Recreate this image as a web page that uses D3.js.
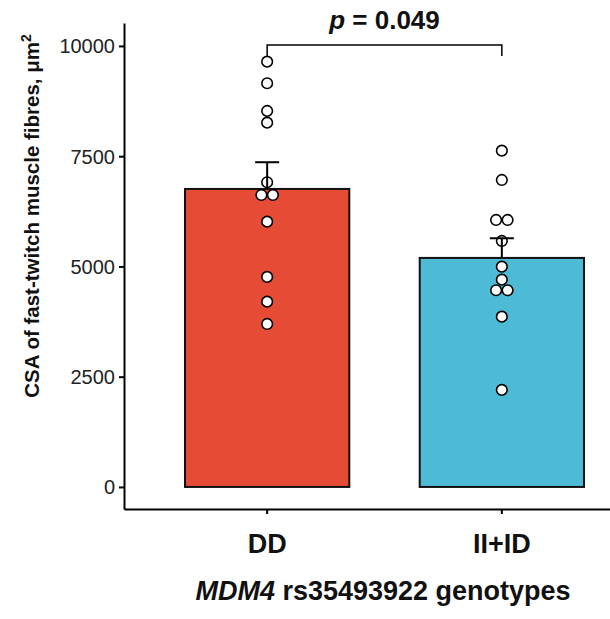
<!DOCTYPE html>
<html>
<head>
<meta charset="utf-8">
<script src="https://cdn.jsdelivr.net/npm/d3@7"></script>
<style>
  body { margin: 0; background: #fff; }
  text { font-family: "Liberation Sans", Arial, sans-serif; }
</style>
</head>
<body>
<div class="chart"></div>
<script>
// genotype groups
var genotypes = ["DD", "II+ID"];
var barColors = ["#E64B35", "#4DBBD5"];
// group means and standard errors
var means = [6757, 5193];
var errors = [606, 446];
// individual values
var ddValues = [9644, 9154, 8526, 8261, 6909, 6621, 6621, 6016, 4762, 4202, 3696];
var iiidValues = [7626, 6961, 6054, 6054, 5578, 4995, 4701, 4460, 4460, 3862, 2200];
var yTicks = [0, 2500, 5000, 7500, 10000];
var pLabel = "0.049";

var svgWidth = 610;
var svgHeight = 619;

var svg = d3.select(".chart")
  .append("svg")
  .attr("width", svgWidth)
  .attr("height", svgHeight);

var xScale = d3.scaleBand()
  .domain(genotypes)
  .range([124, 645])
  .paddingInner(0.3)
  .paddingOuter(0.26);

var yScale = d3.scaleLinear()
  .domain([-500, 10520])
  .range([509, 23]);

// bars
svg.selectAll("rect.bar")
  .data(genotypes)
  .enter()
  .append("rect")
  .attr("class", "bar")
  .attr("x", d => xScale(d))
  .attr("width", xScale.bandwidth())
  .attr("y", (d, i) => yScale(means[i]))
  .attr("height", (d, i) => yScale(0) - yScale(means[i]))
  .attr("fill", (d, i) => barColors[i])
  .attr("stroke", "#111")
  .attr("stroke-width", 2);

// points, dodged when values coincide
var groups = [ddValues, iiidValues];
groups.forEach(function(vals, gi) {
  var cx = xScale(genotypes[gi]) + xScale.bandwidth() / 2;
  var counts = {};
  vals.forEach(v => counts[v] = (counts[v] || 0) + 1);
  var seen = {};
  svg.selectAll(null)
    .data(vals)
    .enter()
    .append("circle")
    .attr("cx", function(v) {
      var k = seen[v] || 0;
      seen[v] = k + 1;
      return cx + (k - (counts[v] - 1) / 2) * 11.5;
    })
    .attr("cy", v => yScale(v))
    .attr("r", 5.3)
    .attr("fill", "#fff")
    .attr("stroke", "#000")
    .attr("stroke-width", 1.6);
});

// error bars (upper only)
genotypes.forEach(function(g, i) {
  var cx = xScale(g) + xScale.bandwidth() / 2;
  svg.append("line")
    .attr("x1", cx).attr("x2", cx)
    .attr("y1", yScale(means[i]))
    .attr("y2", yScale(means[i] + errors[i]))
    .attr("stroke", "#000")
    .attr("stroke-width", 2);
  svg.append("line")
    .attr("x1", cx - 12).attr("x2", cx + 12)
    .attr("y1", yScale(means[i] + errors[i]))
    .attr("y2", yScale(means[i] + errors[i]))
    .attr("stroke", "#000")
    .attr("stroke-width", 2);
});

// axes
var yAxis = svg.append("g")
  .attr("transform", "translate(124,0)")
  .call(d3.axisLeft(yScale).tickValues(yTicks).tickFormat(d3.format("d"))
    .tickSize(5).tickPadding(4).tickSizeOuter(0));
yAxis.select(".domain").attr("stroke", "#000").attr("stroke-width", 2);
yAxis.selectAll(".tick line").attr("stroke", "#000").attr("stroke-width", 2);
yAxis.selectAll(".tick text")
  .style("font-size", "20px")
  .style("fill", "#222")
  .attr("dy", "0.35em");

var xAxis = svg.append("g")
  .attr("transform", "translate(0,509)")
  .call(d3.axisBottom(xScale).tickSize(5).tickPadding(20).tickSizeOuter(0));
xAxis.select(".domain").attr("stroke", "#000").attr("stroke-width", 2);
xAxis.selectAll(".tick line").attr("stroke", "#000").attr("stroke-width", 2);
xAxis.selectAll(".tick text")
  .style("font-size", "27px")
  .style("font-weight", "bold")
  .style("fill", "#111")
  .attr("dy", "0.71em");

// axis titles
var yTitle = svg.append("text")
  .attr("transform", "translate(39, 216) rotate(-90)")
  .style("text-anchor", "middle")
  .style("font-size", "20.5px")
  .style("font-weight", "bold")
  .style("fill", "#111");
yTitle.append("tspan").text("CSA of fast-twitch muscle fibres, \u03bcm");
yTitle.append("tspan").attr("dy", "-0.55em").style("font-size", "14px").text("2");

var xTitle = svg.append("text")
  .attr("x", 383)
  .attr("y", 600)
  .style("text-anchor", "middle")
  .style("font-size", "27px")
  .style("font-weight", "bold")
  .style("fill", "#111");
xTitle.append("tspan").style("font-style", "italic").text("MDM4");
xTitle.append("tspan").text(" rs35493922 genotypes");

// significance bracket
var x1 = xScale(genotypes[0]) + xScale.bandwidth() / 2;
var x2 = xScale(genotypes[1]) + xScale.bandwidth() / 2;
svg.append("path")
  .attr("d", `M${x1},56V45H${x2}V56`)
  .attr("fill", "none")
  .attr("stroke", "#000")
  .attr("stroke-width", 1.5);

var pText = svg.append("text")
  .attr("x", (x1 + x2) / 2)
  .attr("y", 29)
  .style("text-anchor", "middle")
  .style("font-size", "26px")
  .style("font-weight", "bold")
  .style("fill", "#111");
pText.append("tspan").style("font-style", "italic").text("p");
pText.append("tspan").text(" = " + pLabel);
</script>
</body>
</html>
